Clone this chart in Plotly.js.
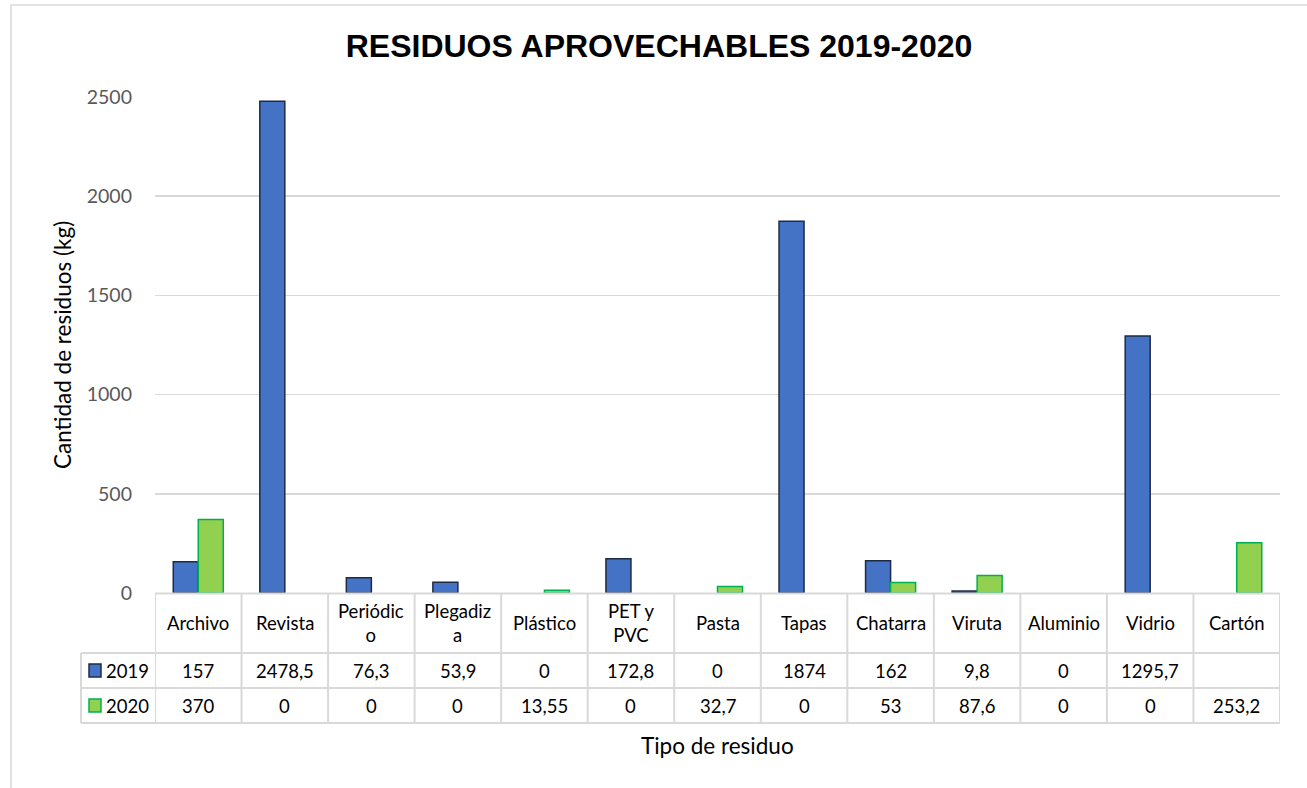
<!DOCTYPE html>
<html>
<head>
<meta charset="utf-8">
<script src="https://cdn.plot.ly/plotly-3.0.1.min.js"></script>
<style>html,body{margin:0;padding:0;background:#fff;}#chart{width:1307px;height:788px;}</style>
</head>
<body>
<div id="chart"></div>
<script>
// ---- Data ----
const categories = ["Archivo","Revista","Periódico","Plegadiza","Plástico","PET y PVC","Pasta","Tapas","Chatarra","Viruta","Aluminio","Vidrio","Cartón"];
const headerLabels = ["Archivo","Revista","Periódic<br>o","Plegadiz<br>a","Plástico","PET y<br>PVC","Pasta","Tapas","Chatarra","Viruta","Aluminio","Vidrio","Cartón"];
const seriesNames = ["2019","2020"];
const values2019 = [157, 2478.5, 76.3, 53.9, 0, 172.8, 0, 1874, 162, 9.8, 0, 1295.7, null];
const values2020 = [370, 0, 0, 0, 13.55, 0, 32.7, 0, 53, 87.6, 0, 0, 253.2];
const yTicks = [0, 500, 1000, 1500, 2000, 2500];

// ---- Layout helpers (pixel geometry of the plot area) ----
const L = 155, R = 1280, T = 97, B = 593, W = 1307, H = 788;
const PW = R - L, PH = B - T;
const px = x => (x - L) / PW;          // pixel x -> paper x
const py = y => (B - y) / PH;          // pixel y -> paper y

const FONT = "Lato, 'Open Sans', sans-serif";
const gridCol = "#d9d9d9";
const colors = {fill2019: "#4472C4", line2019: "#1F2B45", fill2020: "#92D050", line2020: "#00B050"};

// zero-height bars show no outline (as in the reference)
const lineW = vals => vals.map(v => (v ? 1.5 : 0));

const traces = [
  {type: "bar", name: seriesNames[0], x: categories, y: values2019,
   marker: {color: colors.fill2019, line: {color: colors.line2019, width: lineW(values2019)}}, hoverinfo: "x+y"},
  {type: "bar", name: seriesNames[1], x: categories, y: values2020,
   marker: {color: colors.fill2020, line: {color: colors.line2020, width: lineW(values2020)}}, hoverinfo: "x+y"}
];

const fmt = v => (v === null || v === undefined) ? "" : String(v).replace(".", ",");

// Table geometry (pixels)
const rowTop = 593.5, hdrBot = 653, r1Bot = 688, r2Bot = 723, leftEdge = 81;

const shapes = [];
const annotations = [];

// outer chart border
shapes.push({type: "rect", xref: "paper", yref: "paper", x0: px(11), x1: px(1320), y0: py(5), y1: py(800),
  line: {color: gridCol, width: 1.5}, fillcolor: "rgba(0,0,0,0)", layer: "below"});

// table horizontal lines
shapes.push({type: "line", xref: "x", yref: "paper", x0: -0.5, x1: categories.length - 0.5, y0: py(rowTop), y1: py(rowTop), line: {color: gridCol, width: 2}});
[hdrBot, r1Bot, r2Bot].forEach(yy => {
  shapes.push({type: "line", xref: "paper", yref: "paper", x0: px(leftEdge), x1: 1, y0: py(yy), y1: py(yy), line: {color: gridCol, width: 2}});
});
// table vertical lines
for (let i = 0; i <= categories.length; i++) {
  shapes.push({type: "line", xref: "x", yref: "paper", x0: i - 0.5, x1: i - 0.5, y0: py(rowTop), y1: py(r2Bot), line: {color: gridCol, width: 2}});
}
shapes.push({type: "line", xref: "paper", yref: "paper", x0: px(leftEdge), x1: px(leftEdge), y0: py(hdrBot), y1: py(r2Bot), line: {color: gridCol, width: 2}});

// legend keys in the table
shapes.push({type: "rect", xref: "paper", yref: "paper", x0: px(89), x1: px(101), y0: py(664), y1: py(677),
  fillcolor: colors.fill2019, line: {color: colors.line2019, width: 1.5}});
shapes.push({type: "rect", xref: "paper", yref: "paper", x0: px(89), x1: px(101), y0: py(699), y1: py(712),
  fillcolor: colors.fill2020, line: {color: colors.line2020, width: 1.5}});

const cellFont = {family: FONT, size: 18.5, color: "#000"};
const hdrY = py((rowTop + hdrBot) / 2), r1Y = py((hdrBot + r1Bot) / 2), r2Y = py((r1Bot + r2Bot) / 2);

categories.forEach((c, i) => {
  annotations.push({xref: "x", yref: "paper", x: c, y: hdrY, text: headerLabels[i], showarrow: false, font: cellFont, xanchor: "center", yanchor: "middle"});
  annotations.push({xref: "x", yref: "paper", x: c, y: r1Y, text: fmt(values2019[i]), showarrow: false, font: cellFont, xanchor: "center", yanchor: "middle"});
  annotations.push({xref: "x", yref: "paper", x: c, y: r2Y, text: fmt(values2020[i]), showarrow: false, font: cellFont, xanchor: "center", yanchor: "middle"});
});
annotations.push({xref: "paper", yref: "paper", x: px(104), y: r1Y, text: seriesNames[0], showarrow: false, font: cellFont, xanchor: "left", yanchor: "middle"});
annotations.push({xref: "paper", yref: "paper", x: px(104), y: r2Y, text: seriesNames[1], showarrow: false, font: cellFont, xanchor: "left", yanchor: "middle"});

// axis titles
annotations.push({xref: "paper", yref: "paper", x: 0.5, y: py(745), text: "Tipo de residuo", showarrow: false,
  font: {family: FONT, size: 22.5, color: "#000"}, xanchor: "center", yanchor: "middle"});
annotations.push({xref: "paper", yref: "paper", x: px(62), y: py(345), text: "Cantidad de residuos (kg)", showarrow: false, textangle: -90,
  font: {family: FONT, size: 22.5, color: "#000"}, xanchor: "center", yanchor: "middle"});

const layout = {
  width: W, height: H,
  margin: {l: L, r: W - R, t: T, b: H - B, pad: 0},
  paper_bgcolor: "#fff", plot_bgcolor: "#fff",
  title: {text: "<b>RESIDUOS APROVECHABLES 2019-2020</b>", x: 659 / W, xanchor: "center", xref: "container",
    y: 1 - 46 / H, yref: "container", yanchor: "middle",
    font: {family: "'Liberation Sans', Arial, sans-serif", size: 32, color: "#000"}},
  showlegend: false,
  barmode: "group", bargap: 0.422, bargroupgap: 0,
  xaxis: {type: "category", range: [-0.5, categories.length - 0.5], showticklabels: false, showgrid: false,
    zeroline: false, showline: false, ticks: "", fixedrange: true},
  yaxis: {range: [0, 2500], tickvals: yTicks, ticktext: yTicks.map(String), showgrid: true, gridcolor: gridCol, gridwidth: 1.5,
    zeroline: false, showline: false, ticks: "", ticklabelstandoff: 22,
    tickfont: {family: FONT, size: 19.5, color: "#595959"}, fixedrange: true},
  shapes: shapes,
  annotations: annotations
};

Plotly.newPlot("chart", traces, layout, {displayModeBar: false, staticPlot: true});
</script>
</body>
</html>
